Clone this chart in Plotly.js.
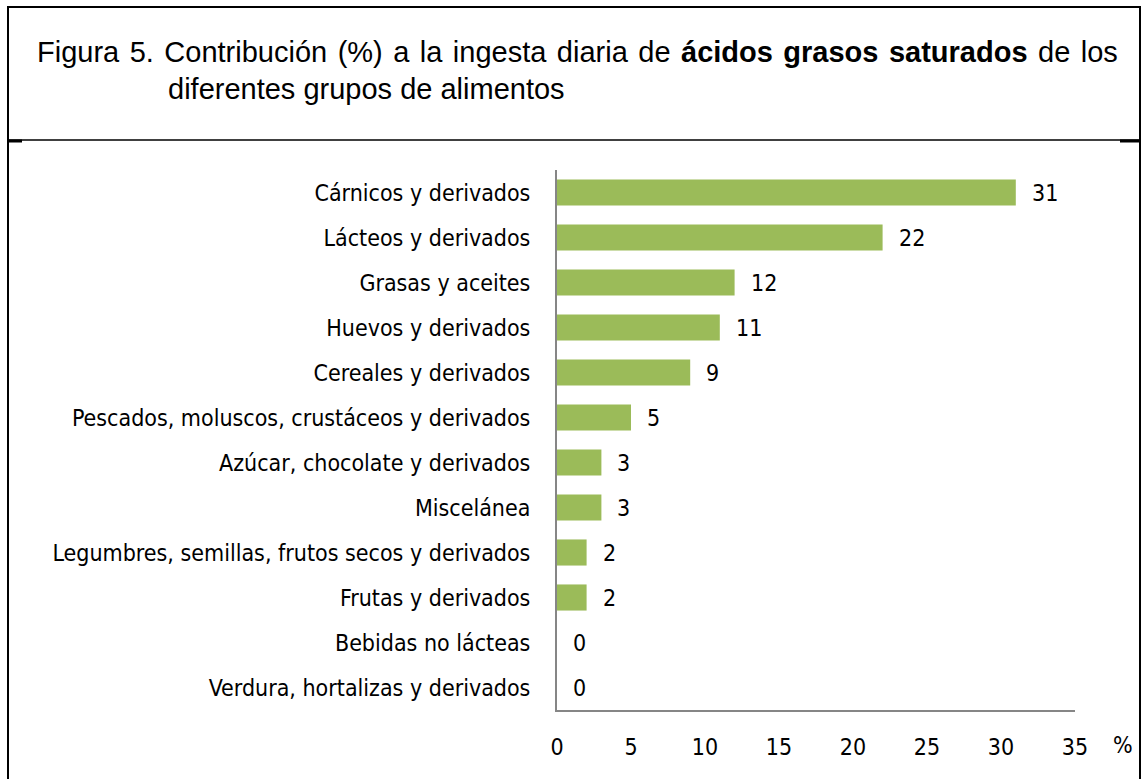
<!DOCTYPE html>
<html>
<head>
<meta charset="utf-8">
<script src="https://cdn.plot.ly/plotly-3.0.1.min.js"></script>
<style>html,body{margin:0;padding:0;background:#fff;}#chart{width:1141px;height:779px;}</style>
</head>
<body>
<div id="chart"></div>
<script>
const categories = [
  "Cárnicos y derivados",
  "Lácteos y derivados",
  "Grasas y aceites",
  "Huevos y derivados",
  "Cereales y derivados",
  "Pescados, moluscos, crustáceos y derivados",
  "Azúcar, chocolate y derivados",
  "Miscelánea",
  "Legumbres, semillas, frutos secos y derivados",
  "Frutas y derivados",
  "Bebidas no lácteas",
  "Verdura, hortalizas y derivados"
];
const values = [31, 22, 12, 11, 9, 5, 3, 3, 2, 2, 0, 0];
const xTicks = [0, 5, 10, 15, 20, 25, 30, 35];
const titleLine1 = "Figura 5. Contribución (%) a la ingesta diaria de <b>ácidos grasos saturados</b> de los";
const titleLine2 = "diferentes grupos de alimentos";
const unitLabel = "%";

const W = 1141, H = 779;
const M = {l: 557, r: 66, t: 170, b: 69};
const pw = W - M.l - M.r, ph = H - M.t - M.b;
const px = x => (x - M.l) / pw;
const py = y => (H - M.b - y) / ph;

const labelFont = {family: "'Liberation Sans Narrow', 'DejaVu Sans Condensed', 'Liberation Sans', sans-serif", size: 23, color: "#000"};
const titleFont = {family: "'Liberation Sans', Arial, sans-serif", size: 29, color: "#000"};

// widen word gaps slightly to imitate the justified first line
const justify = s => s.split(" ").join("\u200A ");

const trace = {
  type: "bar",
  orientation: "h",
  x: values,
  y: categories,
  marker: {color: "#9BBB59"},
  hoverinfo: "none"
};

const annotations = values.map((v, i) => ({
  x: v, y: categories[i], xref: "x", yref: "y",
  text: String(v), showarrow: false, xanchor: "left", xshift: 14,
  font: labelFont
}));
annotations.push({
  x: px(1123), y: py(745), xref: "paper", yref: "paper",
  text: unitLabel, showarrow: false, xanchor: "center", yanchor: "middle", font: labelFont
});
annotations.push({
  x: px(35), y: py(52), xref: "paper", yref: "paper",
  text: justify(titleLine1), showarrow: false, xanchor: "left", yanchor: "middle", font: titleFont
});
annotations.push({
  x: px(166), y: py(89), xref: "paper", yref: "paper",
  text: titleLine2, showarrow: false, xanchor: "left", yanchor: "middle", font: titleFont
});

const layout = {
  width: W, height: H,
  margin: M,
  paper_bgcolor: "#fff", plot_bgcolor: "#fff",
  showlegend: false,
  bargap: 0.42,
  xaxis: {
    range: [0, 35], tickvals: xTicks, ticktext: xTicks.map(String),
    showgrid: false, zeroline: false, showline: true, linecolor: "#868686", linewidth: 2,
    ticks: "", tickfont: labelFont, ticklabelstandoff: 15, fixedrange: true
  },
  yaxis: {
    autorange: "reversed", type: "category",
    showgrid: false, zeroline: false, showline: true, linecolor: "#868686", linewidth: 2,
    ticks: "", tickfont: labelFont, ticklabelstandoff: 20, fixedrange: true
  },
  annotations: annotations,
  shapes: [
    {type: "rect", xref: "paper", yref: "paper", x0: px(8), x1: px(1140), y0: py(790), y1: py(7), line: {color: "#000", width: 2}},
    {type: "line", xref: "paper", yref: "paper", x0: px(8), x1: px(1140), y0: py(140), y1: py(140), line: {color: "#000", width: 1.5}},
    {type: "line", xref: "paper", yref: "paper", x0: px(8), x1: px(22), y0: py(141), y1: py(141), line: {color: "#000", width: 3}},
    {type: "line", xref: "paper", yref: "paper", x0: px(1120), x1: px(1140), y0: py(141), y1: py(141), line: {color: "#000", width: 3}}
  ]
};

Plotly.newPlot("chart", [trace], layout, {displayModeBar: false, staticPlot: true});
</script>
</body>
</html>
